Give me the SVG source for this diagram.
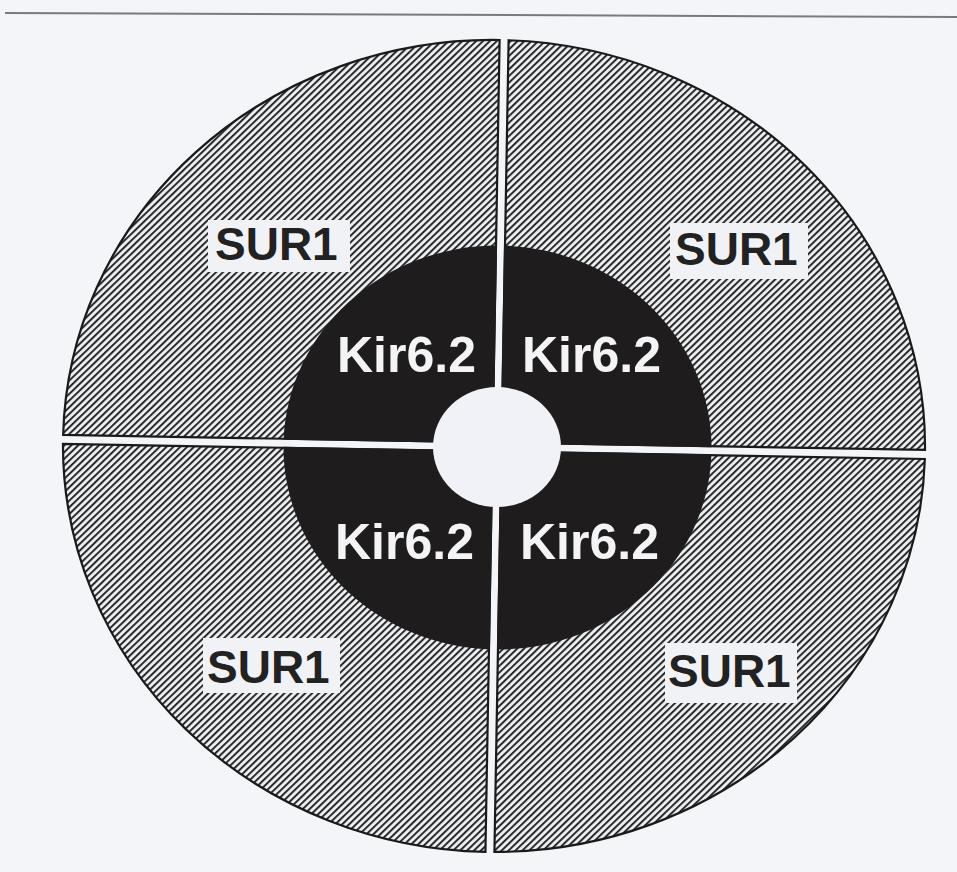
<svg xmlns="http://www.w3.org/2000/svg" width="957" height="872" viewBox="0 0 957 872">
<style>
.sur{fill:url(#hatch);stroke:#1a1a1a;stroke-width:2.2}
.kir{fill:#1f1c1d}
.box{fill:#f1f2f6}
.ls{font-family:"Liberation Sans",Arial,Helvetica,sans-serif;font-weight:bold;font-size:46px;fill:#222}
.lk{font-family:"Liberation Sans",Arial,Helvetica,sans-serif;font-weight:bold;font-size:50px;fill:#f4f4f6}
</style>
<defs>
<pattern id="hatch" patternUnits="userSpaceOnUse" width="10" height="4.8" patternTransform="rotate(-45)">
<rect width="10" height="4.8" fill="#eef0f4"/>
<rect width="10" height="2" fill="#2a2a2a"/>
</pattern>
</defs>
<rect width="957" height="872" fill="#f3f5f9"/>
<line x1="5" y1="13" x2="957" y2="17" stroke="#7a7a7a" stroke-width="2"/>
<g id="q-top-left">
<g transform="rotate(1 497 447)">
<path class="sur" d="M492.5,442.5 V40 A431,406 0 0 0 63,442.5 Z"/>
<path class="kir" d="M493.5,443.5 V245.5 A214,202 0 0 0 283.5,443.5 Z"/>
</g>
<rect class="box" x="208" y="220" width="142" height="52"/>
<text class="ls" x="215" y="260">SUR1</text>
<text class="lk" x="337" y="372">Kir6.2</text>
</g>
<g id="q-top-right">
<g transform="rotate(1 497 447)">
<path class="sur" d="M501.5,442.5 H925 A431,406 0 0 0 501.5,40.1 Z"/>
<path class="kir" d="M500.5,443.5 H711.5 A214,202 0 0 0 500.5,245.5 Z"/>
</g>
<rect class="box" x="670" y="223" width="138" height="56"/>
<text class="ls" x="675" y="265">SUR1</text>
<text class="lk" x="522" y="372">Kir6.2</text>
</g>
<g id="q-bottom-right">
<g transform="rotate(1 497 447)">
<path class="sur" d="M501.5,451.5 V851.9 A431,406 0 0 0 925,451.5 Z"/>
<path class="kir" d="M500.5,450.5 V649.5 A214,202 0 0 0 711.5,450.5 Z"/>
</g>
<rect class="box" x="665" y="643" width="132" height="60"/>
<text class="ls" x="668" y="687">SUR1</text>
<text class="lk" x="520" y="559">Kir6.2</text>
</g>
<g id="q-bottom-left">
<g transform="rotate(1 497 447)">
<path class="sur" d="M492.5,451.5 H63 A431,406 0 0 0 492.5,852 Z"/>
<path class="kir" d="M493.5,450.5 H283.5 A214,202 0 0 0 493.5,649.5 Z"/>
</g>
<rect class="box" x="203" y="638" width="137" height="55"/>
<text class="ls" x="207" y="683">SUR1</text>
<text class="lk" x="335" y="559">Kir6.2</text>
</g>
<g id="pore">
<ellipse cx="497" cy="447" rx="64" ry="60" fill="#f0f2f7"/>
</g>
</svg>
